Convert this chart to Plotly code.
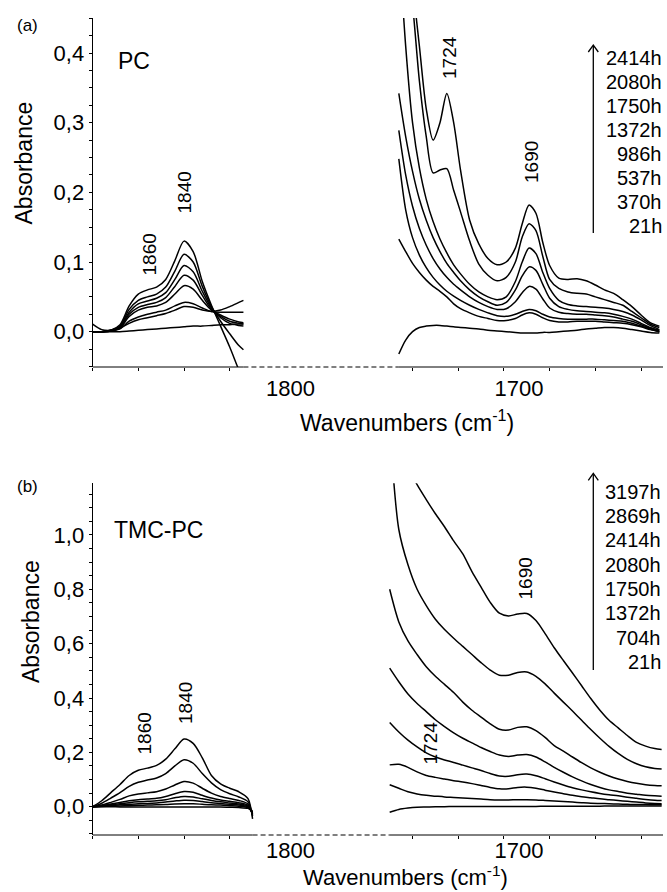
import plotly.graph_objects as go

W, H = 667, 892

# ---------------- Panel (a): PC ----------------
a_times = ["21h", "370h", "537h", "986h", "1372h", "1750h", "2080h", "2414h"]

a_left_wn = [1880, 1876, 1872, 1868, 1864, 1860, 1856, 1852, 1848, 1844, 1840,
             1836, 1832, 1828, 1824, 1820, 1816, 1814]
a_left_21h = [0.000, 0.000, 0.000, 0.000, 0.001, 0.002, 0.003, 0.004, 0.005, 0.006, 0.007,
              0.008, 0.008, 0.009, 0.010, 0.010, 0.011, 0.011]
a_left_370h = [0.011, 0.003, 0.002, 0.005, 0.012, 0.017, 0.020, 0.023, 0.026, 0.031, 0.036,
               0.035, 0.031, 0.029, 0.031, 0.036, 0.042, 0.045]
a_left_537h = [0.000, 0.000, 0.001, 0.004, 0.015, 0.021, 0.025, 0.028, 0.031, 0.037, 0.042,
               0.040, 0.034, 0.029, 0.028, 0.028, 0.028, 0.028]
a_left_986h = [0.000, 0.000, 0.001, 0.005, 0.022, 0.031, 0.035, 0.037, 0.042, 0.054, 0.066,
               0.061, 0.045, 0.031, 0.024, 0.018, 0.014, 0.013]
a_left_1372h = [0.000, 0.000, 0.001, 0.006, 0.025, 0.035, 0.039, 0.042, 0.049, 0.065, 0.081,
                0.074, 0.052, 0.032, 0.022, 0.015, 0.012, 0.011]
a_left_1750h = [0.000, 0.000, 0.002, 0.007, 0.028, 0.040, 0.044, 0.048, 0.056, 0.075, 0.095,
                0.086, 0.058, 0.034, 0.020, 0.012, 0.009, 0.008]
a_left_2080h = [0.000, 0.000, 0.002, 0.008, 0.032, 0.045, 0.050, 0.054, 0.064, 0.087, 0.111,
                0.100, 0.065, 0.036, 0.015, -0.003, -0.020, -0.026]
a_left_2414h = [0.000, 0.000, 0.002, 0.010, 0.037, 0.054, 0.060, 0.064, 0.075, 0.102, 0.130,
                0.115, 0.072, 0.038, 0.008, -0.022, -0.055, -0.070]

a_right_wn = [1746, 1743, 1740, 1737, 1734, 1731, 1728, 1725, 1722, 1719, 1715, 1711, 1707,
              1703, 1699, 1695, 1692, 1689, 1686, 1683, 1680, 1676, 1672, 1668, 1664, 1660,
              1656, 1652, 1648, 1644, 1640, 1636, 1632]
a_right_21h = [-0.032, -0.012, 0.000, 0.006, 0.008, 0.009, 0.009, 0.008, 0.007, 0.006, 0.005,
               0.004, 0.002, 0.001, 0.000, -0.001, -0.002, -0.002, -0.002, -0.001, -0.001,
               0.000, 0.001, 0.002, 0.004, 0.005, 0.006, 0.006, 0.005, 0.003, 0.001, -0.001, -0.002]
a_right_370h = [0.133, 0.115, 0.098, 0.085, 0.074, 0.065, 0.058, 0.050, 0.040, 0.033, 0.027,
                0.022, 0.019, 0.016, 0.016, 0.019, 0.024, 0.027, 0.025, 0.020, 0.016, 0.014,
                0.014, 0.015, 0.015, 0.015, 0.014, 0.013, 0.012, 0.010, 0.007, 0.003, 0.000]
a_right_537h = [0.248, 0.175, 0.135, 0.110, 0.092, 0.078, 0.067, 0.058, 0.051, 0.045, 0.038,
                0.032, 0.027, 0.023, 0.022, 0.025, 0.029, 0.032, 0.030, 0.025, 0.021, 0.019,
                0.018, 0.018, 0.018, 0.018, 0.017, 0.016, 0.015, 0.012, 0.008, 0.004, 0.000]
a_right_986h = [0.289, 0.225, 0.180, 0.148, 0.124, 0.105, 0.090, 0.078, 0.068, 0.060, 0.050,
                0.042, 0.036, 0.032, 0.033, 0.043, 0.056, 0.065, 0.061, 0.047, 0.034, 0.028,
                0.026, 0.025, 0.025, 0.024, 0.023, 0.021, 0.018, 0.015, 0.010, 0.005, 0.001]
a_right_1372h = [0.342, 0.280, 0.230, 0.190, 0.160, 0.135, 0.115, 0.098, 0.085, 0.073, 0.060,
                 0.050, 0.043, 0.038, 0.042, 0.060, 0.080, 0.093, 0.088, 0.068, 0.048, 0.036,
                 0.032, 0.030, 0.029, 0.028, 0.027, 0.025, 0.022, 0.018, 0.012, 0.006, 0.002]
a_right_1750h = [0.560, 0.410, 0.300, 0.235, 0.190, 0.158, 0.133, 0.113, 0.096, 0.083, 0.068,
                 0.057, 0.050, 0.046, 0.050, 0.072, 0.100, 0.120, 0.112, 0.085, 0.062, 0.045,
                 0.039, 0.037, 0.036, 0.035, 0.034, 0.032, 0.029, 0.024, 0.017, 0.009, 0.003]
a_right_2080h = [0.620, 0.550, 0.470, 0.360, 0.280, 0.228, 0.232, 0.234, 0.203, 0.172, 0.130,
                 0.097, 0.081, 0.073, 0.078, 0.100, 0.136, 0.155, 0.145, 0.108, 0.075, 0.062,
                 0.057, 0.055, 0.054, 0.050, 0.046, 0.042, 0.038, 0.029, 0.020, 0.011, 0.006]
a_right_2414h = [0.700, 0.600, 0.500, 0.410, 0.320, 0.275, 0.300, 0.342, 0.300, 0.232, 0.160,
                 0.126, 0.105, 0.096, 0.100, 0.120, 0.155, 0.182, 0.170, 0.128, 0.095, 0.077,
                 0.075, 0.076, 0.073, 0.067, 0.060, 0.055, 0.046, 0.036, 0.024, 0.013, 0.008]

# ---------------- Panel (b): TMC-PC ----------------
b_times = ["21h", "704h", "1372h", "1750h", "2080h", "2414h", "2869h", "3197h"]

b_left_wn = [1880, 1876, 1872, 1868, 1864, 1860, 1856, 1852, 1848, 1844, 1840,
             1836, 1832, 1828, 1824, 1820, 1816, 1812, 1810]
b_left_21h = [0.000, 0.000, 0.000, -0.001, -0.001, -0.001, -0.001, -0.001, -0.001, -0.001,
              -0.001, -0.001, -0.001, -0.001, -0.001, -0.002, -0.003, -0.006, -0.015]
b_left_704h = [0.000, 0.001, 0.002, 0.003, 0.004, 0.005, 0.006, 0.007, 0.008, 0.010, 0.011,
               0.011, 0.009, 0.007, 0.006, 0.004, 0.002, -0.004, -0.020]
b_left_1372h = [0.000, 0.002, 0.004, 0.007, 0.009, 0.011, 0.012, 0.014, 0.017, 0.021, 0.024,
                0.023, 0.019, 0.015, 0.012, 0.009, 0.006, -0.001, -0.022]
b_left_1750h = [0.000, 0.003, 0.007, 0.011, 0.015, 0.018, 0.020, 0.022, 0.026, 0.033, 0.038,
                0.036, 0.029, 0.023, 0.018, 0.014, 0.010, 0.002, -0.025]
b_left_2080h = [0.000, 0.004, 0.010, 0.016, 0.022, 0.026, 0.028, 0.031, 0.038, 0.048, 0.056,
                0.053, 0.042, 0.032, 0.025, 0.020, 0.015, 0.005, -0.028]
b_left_2414h = [0.000, 0.006, 0.016, 0.027, 0.040, 0.047, 0.051, 0.055, 0.065, 0.080, 0.093,
                0.087, 0.068, 0.050, 0.038, 0.030, 0.023, 0.010, -0.030]
b_left_2869h = [0.000, 0.013, 0.032, 0.052, 0.075, 0.090, 0.098, 0.106, 0.122, 0.150, 0.173,
                0.160, 0.122, 0.088, 0.063, 0.048, 0.036, 0.018, -0.035]
b_left_3197h = [0.000, 0.022, 0.052, 0.082, 0.115, 0.134, 0.142, 0.152, 0.175, 0.213, 0.249,
                0.233, 0.180, 0.115, 0.084, 0.068, 0.055, 0.030, -0.045]

b_right_wn = [1750, 1746, 1742, 1738, 1734, 1730, 1726, 1722, 1718, 1714, 1710, 1706, 1702,
              1698, 1694, 1690, 1686, 1682, 1678, 1674, 1670, 1666, 1662, 1658, 1654, 1650,
              1646, 1642, 1638, 1634, 1631]
b_right_21h = [-0.020, -0.010, -0.005, -0.002, -0.001, 0.000, 0.000, 0.001, 0.001, 0.001,
               0.001, 0.001, 0.001, 0.001, 0.001, 0.001, 0.001, 0.002, 0.002, 0.002, 0.002,
               0.002, 0.002, 0.002, 0.003, 0.003, 0.003, 0.003, 0.003, 0.003, 0.003]
b_right_704h = [0.081, 0.068, 0.055, 0.047, 0.042, 0.039, 0.036, 0.034, 0.032, 0.030, 0.028,
                0.026, 0.025, 0.025, 0.026, 0.026, 0.025, 0.023, 0.021, 0.019, 0.017, 0.015,
                0.013, 0.012, 0.011, 0.010, 0.009, 0.008, 0.008, 0.007, 0.007]
b_right_1372h = [0.154, 0.156, 0.145, 0.128, 0.115, 0.108, 0.102, 0.096, 0.091, 0.085, 0.078,
                 0.071, 0.066, 0.066, 0.071, 0.072, 0.068, 0.061, 0.054, 0.048, 0.042, 0.037,
                 0.033, 0.029, 0.026, 0.023, 0.020, 0.017, 0.014, 0.012, 0.011]
b_right_1750h = [0.310, 0.275, 0.245, 0.220, 0.198, 0.183, 0.172, 0.163, 0.153, 0.143, 0.133,
                 0.122, 0.113, 0.112, 0.118, 0.120, 0.114, 0.103, 0.091, 0.080, 0.070, 0.062,
                 0.055, 0.049, 0.044, 0.040, 0.035, 0.031, 0.027, 0.024, 0.023]
b_right_2080h = [0.510, 0.460, 0.415, 0.380, 0.350, 0.320, 0.295, 0.272, 0.252, 0.235, 0.218,
                 0.203, 0.190, 0.185, 0.190, 0.192, 0.183, 0.165, 0.145, 0.127, 0.110, 0.095,
                 0.082, 0.071, 0.062, 0.056, 0.050, 0.046, 0.042, 0.040, 0.039]
b_right_2414h = [0.800, 0.680, 0.610, 0.560, 0.515, 0.480, 0.450, 0.420, 0.385, 0.355, 0.330,
                 0.305, 0.285, 0.282, 0.292, 0.294, 0.280, 0.255, 0.225, 0.205, 0.183, 0.162,
                 0.143, 0.127, 0.113, 0.102, 0.093, 0.086, 0.081, 0.078, 0.077]
b_right_2869h = [1.400, 1.020, 0.890, 0.800, 0.740, 0.690, 0.652, 0.620, 0.590, 0.560, 0.530,
                 0.503, 0.484, 0.484, 0.494, 0.496, 0.480, 0.452, 0.418, 0.385, 0.352, 0.318,
                 0.284, 0.252, 0.222, 0.196, 0.174, 0.158, 0.147, 0.141, 0.139]
b_right_3197h = [1.400, 1.320, 1.250, 1.185, 1.130, 1.078, 1.030, 0.978, 0.930, 0.865, 0.808,
                 0.752, 0.712, 0.702, 0.709, 0.711, 0.685, 0.637, 0.585, 0.538, 0.492, 0.445,
                 0.398, 0.355, 0.318, 0.290, 0.262, 0.237, 0.223, 0.214, 0.211]

# axis settings (tick values / labels)
x_range = [1880, 1630.4]
x_label_vals = [1800, 1700]
x_minor_step = 20
a_y_range = [-0.0507, 0.4503]
b_y_range = [-0.104, 1.190]

a_left = dict(zip(a_times, [a_left_21h, a_left_370h, a_left_537h, a_left_986h,
                            a_left_1372h, a_left_1750h, a_left_2080h, a_left_2414h]))
a_right = dict(zip(a_times, [a_right_21h, a_right_370h, a_right_537h, a_right_986h,
                             a_right_1372h, a_right_1750h, a_right_2080h, a_right_2414h]))
b_left = dict(zip(b_times, [b_left_21h, b_left_704h, b_left_1372h, b_left_1750h,
                            b_left_2080h, b_left_2414h, b_left_2869h, b_left_3197h]))
b_right = dict(zip(b_times, [b_right_21h, b_right_704h, b_right_1372h, b_right_1750h,
                             b_right_2080h, b_right_2414h, b_right_2869h, b_right_3197h]))

FONT = "Liberation Sans, Arial, Helvetica, sans-serif"
fig = go.Figure()


def add_panel(times, lwn, left, rwn, right, xa, ya):
    for t in times:
        fig.add_trace(go.Scatter(
            x=lwn + [None] + rwn, y=left[t] + [None] + right[t],
            mode="lines", name=t, xaxis=xa, yaxis=ya,
            line=dict(color="black", width=1.5, shape="spline", smoothing=0.8),
            connectgaps=False, hoverinfo="skip"))


add_panel(a_times, a_left_wn, a_left, a_right_wn, a_right, "x", "y")
add_panel(b_times, b_left_wn, b_left, b_right_wn, b_right, "x2", "y2")


def px(x):
    return x / W


def py(y):
    return 1 - y / H


def P(x, y):
    return dict(x=px(x), y=py(y), xref="paper", yref="paper")


def minor_vals(lwn, rwn):
    vals = []
    v = x_range[0]
    while v >= x_range[1]:
        if v >= min(lwn) or v <= max(rwn):
            vals.append(v)
        v -= x_minor_step
    return vals


def xaxis_cfg(domain_anchor, lwn, rwn, standoff):
    return dict(
        domain=[92.6 / W, 663 / W], range=x_range, anchor=domain_anchor,
        showline=False, showgrid=False, zeroline=False,
        tickmode="array", tickvals=x_label_vals, ticktext=[str(v) for v in x_label_vals],
        ticks="", ticklabelshift=-15, ticklabelstandoff=standoff,
        tickfont=dict(size=22, family=FONT, color="black"),
        minor=dict(tickmode="array", tickvals=minor_vals(lwn, rwn), ticks="outside",
                   ticklen=3, tickwidth=1, tickcolor="black"),
    )


def yaxis_cfg(domain, rng, dtick, anchor):
    return dict(
        domain=domain, range=rng, anchor=anchor,
        showline=True, linecolor="black", linewidth=1, mirror=False,
        showgrid=False, zeroline=False,
        ticks="outside", ticklen=3, tickwidth=1, tickcolor="black",
        tick0=0, dtick=dtick, tickformat=".1f",
        tickfont=dict(size=22, family=FONT, color="black"),
        minor=dict(dtick=dtick / 4, tick0=0, ticks="outside", ticklen=3,
                   tickwidth=1, tickcolor="black"),
    )


fig.update_layout(
    width=W, height=H, margin=dict(l=0, r=0, t=0, b=0),
    paper_bgcolor="white", plot_bgcolor="white",
    separators=", ", showlegend=False,
    font=dict(family=FONT, size=20, color="black"),
    xaxis=xaxis_cfg("y", a_left_wn, a_right_wn, 6),
    yaxis=yaxis_cfg([1 - 367 / H, 1 - 18 / H], a_y_range, 0.1, "x"),
    xaxis2=xaxis_cfg("y2", b_left_wn, b_right_wn, 0),
    yaxis2=yaxis_cfg([1 - 835 / H, 1 - 483.3 / H], b_y_range, 0.2, "x2"),
)

# broken x-axis line: solid where data exist, dashed across the gap
shapes = []
for xr, yr, lwn, rwn in [("x", "y domain", a_left_wn, a_right_wn),
                         ("x2", "y2 domain", b_left_wn, b_right_wn)]:
    segs = [(x_range[0], min(lwn), "solid"), (min(lwn), max(rwn), "5px,3px"),
            (max(rwn), x_range[1], "solid")]
    for x0, x1, dash in segs:
        shapes.append(dict(type="line", xref=xr, yref=yr, x0=x0, x1=x1, y0=0, y1=0,
                           line=dict(color="black", width=1, dash=dash)))

# ageing-time arrows (line + open chevron head)
for tipy, taily in [(45, 233), (473.3, 670)]:
    ax = 593.3
    shapes.append(dict(type="line", xref="paper", yref="paper",
                       x0=px(ax), x1=px(ax), y0=py(taily), y1=py(tipy + 1),
                       line=dict(color="black", width=1.3)))
    shapes.append(dict(type="path", xref="paper", yref="paper",
                       path=f"M {px(ax - 5)},{py(tipy + 7)} L {px(ax)},{py(tipy)} "
                            f"L {px(ax + 5)},{py(tipy + 7)}",
                       line=dict(color="black", width=1.3)))
fig.update_layout(shapes=shapes)

ann = []


def text(s, x, y, size, angle=0, xanchor="center"):
    d = P(x, y)
    d.update(text=s, showarrow=False, textangle=angle, xanchor=xanchor,
             yanchor="middle", font=dict(size=size, family=FONT, color="black"))
    ann.append(d)


# panel (a) texts
text("(a)", 27.5, 25.5, 17)
text("PC", 134, 61, 23)
text("1860", 148.5, 255, 19, -90)
text("1840", 184, 192.5, 19, -90)
text("1724", 449.5, 57.5, 19, -90)
text("1690", 531.5, 162.5, 19, -90)
text("Absorbance", 23.5, 163, 23, -90)
text("Wavenumbers (cm<sup>-1</sup>)", 406.5, 421, 23)
for i, t in enumerate(reversed(a_times)):
    text(t, 664, 58.5 + i * 23.9, 20, 0, "right")

# panel (b) texts
text("(b)", 27.5, 486, 17)
text("TMC-PC", 158, 529.5, 23)
text("1860", 143.5, 734, 19, -90)
text("1840", 185, 703, 19, -90)
text("1690", 524.5, 579, 19, -90)
text("1724", 430, 743.5, 19, -90)
text("Absorbance", 31, 622, 23, -90)
text("Wavenumbers (cm<sup>-1</sup>)", 405, 876, 22)
for i, t in enumerate(reversed(b_times)):
    text(t, 663, 491.7 + i * 24.3, 20, 0, "right")

fig.update_layout(annotations=ann)
fig.write_html("out.html",
               config={"displayModeBar": False},
               post_script="document.body.style.margin='0px';"
                           "document.body.style.overflow='hidden';")
